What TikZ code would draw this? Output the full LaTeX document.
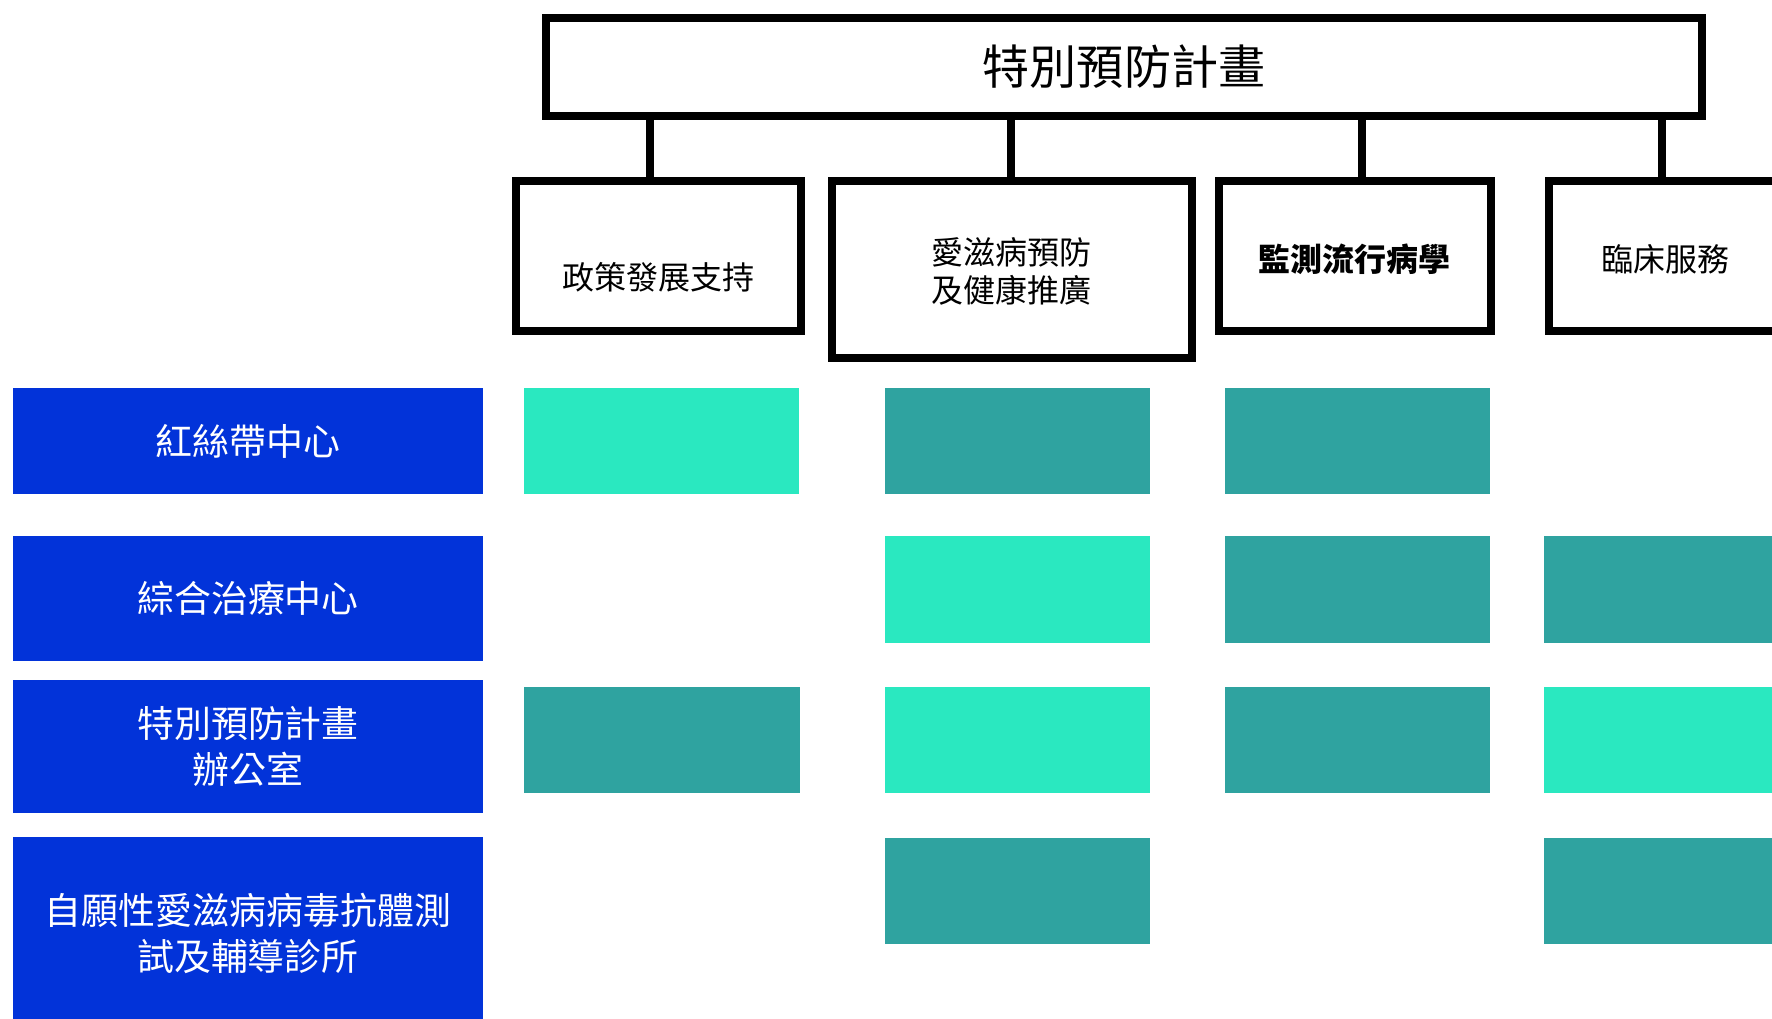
\documentclass[tikz,border=0pt]{standalone}
\usepackage{fontspec}
\setmainfont{Noto Sans CJK TC}
\definecolor{bluebox}{HTML}{0233D9}
\definecolor{lightcell}{HTML}{2AE8C0}
\definecolor{tealcell}{HTML}{2FA3A0}
\begin{document}
\begin{tikzpicture}[x=0.01cm,y=-0.01cm,
  frame/.style={draw=black, line width=2.28pt, fill=white, inner sep=0pt},
  link/.style={draw=black, line width=2.28pt},
  childtext/.style={inner sep=0pt, align=center, font=\fontsize{9.1}{10.8}\selectfont},
  rowhead/.style={fill=bluebox, text=white, inner sep=0pt, minimum width=4.69cm, align=center, font=\fontsize{10.5}{13.1}\selectfont},
  cell/.style={inner sep=0pt, minimum height=1.06cm, minimum width=2.64cm},
  lightc/.style={cell, fill=lightcell},
  tealc/.style={cell, fill=tealcell}]
\useasboundingbox (0,0) rectangle (1772,1019);
\clip (0,0) rectangle (1772,1019);

% top box
\node[frame, minimum width=11.56cm, minimum height=0.98cm, font=\fontsize{13.4}{16}\selectfont] (top) at (1124,67) {特別預防計畫};

% child boxes
\node[frame, minimum width=2.85cm, minimum height=1.5cm] (c1) at (658.5,256) {};
\node[childtext] (t1) at (658,277) {政策發展支持};
\node[frame, minimum width=3.6cm, minimum height=1.77cm] (c2) at (1012,269.5) {};
\node[childtext] (t2) at (1011,271) {愛滋病預防\\及健康推廣};
\node[frame, minimum width=2.72cm, minimum height=1.5cm] (c3) at (1355,256) {};
\node[childtext, font=\fontsize{9.1}{10.8}\selectfont\bfseries] (t3) at (1354,259) {監測流行病學};
\node[frame, minimum width=2.32cm, minimum height=1.5cm] (c4) at (1665,256) {};
\node[childtext] (t4) at (1665,259) {臨床服務};

% connectors
\coordinate (k1) at (650,0);
\coordinate (k2) at (1011,0);
\coordinate (k3) at (1362,0);
\coordinate (k4) at (1662,0);
\draw[link] (top.south -| k1) -- (c1.north -| k1);
\draw[link] (top.south -| k2) -- (c2.north -| k2);
\draw[link] (top.south -| k3) -- (c3.north -| k3);
\draw[link] (top.south -| k4) -- (c4.north -| k4);

% row headers
\node[rowhead, minimum height=1.06cm] (r1) at (248,441) {紅絲帶中心};
\node[rowhead, minimum height=1.25cm] (r2) at (248,598.5) {綜合治療中心};
\node[rowhead, minimum height=1.33cm] (r3) at (248,746.5) {特別預防計畫\\辦公室};
\node[rowhead, minimum height=1.93cm] (r4) at (248,933.5) {自願性愛滋病病毒抗體測\\試及輔導診所};

% cells row 1
\node[lightc, minimum width=2.75cm] (a11) at (661.5,441) {};
\node[tealc] (a12) at (1017.5,441) {};
\node[tealc] (a13) at (1357.5,441) {};
% row 2
\node[lightc] (a22) at (1017.5,589.5) {};
\node[tealc] (a23) at (1357.5,589.5) {};
\node[tealc] (a24) at (1676,589.5) {};
% row 3
\node[tealc, minimum width=2.75cm] (a31) at (662,740) {};
\node[lightc] (a32) at (1017.5,740) {};
\node[tealc] (a33) at (1357.5,740) {};
\node[lightc] (a34) at (1676,740) {};
% row 4
\node[tealc] (a42) at (1017.5,891) {};
\node[tealc] (a44) at (1676,891) {};
\end{tikzpicture}
\end{document}
